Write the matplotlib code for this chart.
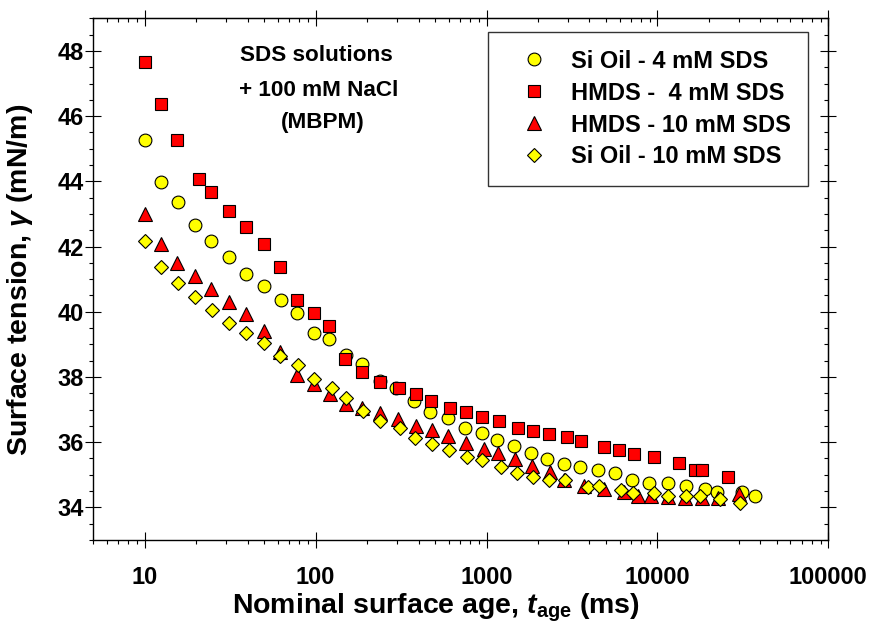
import matplotlib
matplotlib.use("Agg")
import matplotlib.pyplot as plt
from matplotlib.ticker import FixedLocator, LogLocator, MultipleLocator, NullFormatter

plt.rcParams['font.family'] = ['Liberation Sans', 'DejaVu Sans']
plt.rcParams['font.weight'] = 'bold'
plt.rcParams['mathtext.fontset'] = 'custom'
plt.rcParams['mathtext.rm'] = 'Liberation Sans:bold'
plt.rcParams['mathtext.it'] = 'Liberation Sans:italic:bold'
plt.rcParams['mathtext.bf'] = 'Liberation Sans:bold'

# surface age (ms) and surface tension (mN/m)
t_si4 = [10, 12.4, 15.7, 19.6, 24.5, 31.0, 39.4, 49.7, 62.4, 78.2,
         97.7, 120, 149.8, 187.5, 236.6, 296.5, 375.8, 468.8, 594, 750,
         944, 1155, 1444, 1826, 2253, 2828, 3546, 4519, 5681, 7113,
         8980, 11550, 14720, 19010, 22340, 31280, 37420]
g_si4 = [45.28, 43.98, 43.37, 42.67, 42.18, 41.68, 41.17, 40.78, 40.37, 39.97,
         39.36, 39.17, 38.66, 38.39, 37.87, 37.66, 37.26, 36.94, 36.75, 36.45,
         36.28, 36.07, 35.87, 35.67, 35.47, 35.34, 35.25, 35.16, 35.06, 34.85,
         34.75, 34.75, 34.65, 34.56, 34.46, 34.46, 34.36]

t_hm4 = [10, 12.4, 15.5, 20.7, 24.5, 31.0, 39.4, 49.7, 61.8, 78.2,
         97.7, 120, 148.8, 187.5, 236.6, 305.6, 387.8, 475, 608, 754,
         944, 1191, 1538, 1866, 2336, 2958, 3548, 4900, 5998, 7330,
         9594, 13326, 16600, 18250, 25760]
g_hm4 = [47.67, 46.38, 45.27, 44.07, 43.67, 43.08, 42.6, 42.07, 41.37, 40.36,
         39.97, 39.56, 38.54, 38.15, 37.85, 37.66, 37.47, 37.25, 37.05, 36.94,
         36.76, 36.66, 36.45, 36.35, 36.25, 36.15, 36.05, 35.85, 35.75, 35.65,
         35.54, 35.35, 35.15, 35.15, 34.94]

t_hm10 = [10, 12.4, 15.5, 19.6, 24.5, 31.0, 39.4, 49.7, 62.2, 78.2,
          97.7, 120.8, 150.2, 187.5, 239, 302.9, 384.4, 478.6, 593.9, 760.8,
          960.5, 1164.5, 1458, 1840, 2358, 2858, 3707, 4853, 6412, 7672,
          9189, 11596, 14521, 18257, 22523, 30170]
g_hm10 = [42.99, 42.07, 41.49, 41.1, 40.69, 40.29, 39.93, 39.4, 38.77, 38.07,
          37.77, 37.47, 37.17, 37.05, 36.89, 36.7, 36.49, 36.38, 36.18, 35.98,
          35.78, 35.67, 35.48, 35.28, 35.08, 34.85, 34.67, 34.56, 34.46, 34.36,
          34.36, 34.33, 34.29, 34.29, 34.29, 34.41]

t_si10 = [10, 12.4, 15.7, 19.6, 24.8, 31.0, 39.4, 49.7, 62.2, 78.8,
          97.7, 124.9, 149.8, 189, 236.6, 309.9, 379.3, 481.4, 599.6, 771,
          944, 1207.6, 1504, 1866, 2314, 2889, 3912, 4580, 6134, 7238,
          9515, 11488, 14720, 17846, 23267, 30455]
g_si10 = [42.18, 41.36, 40.87, 40.46, 40.06, 39.67, 39.36, 39.05, 38.65, 38.36,
          37.95, 37.67, 37.36, 36.95, 36.66, 36.45, 36.14, 35.94, 35.75, 35.55,
          35.45, 35.25, 35.06, 34.94, 34.84, 34.84, 34.64, 34.65, 34.54, 34.44,
          34.44, 34.36, 34.36, 34.36, 34.26, 34.15]

x_ticks = [10, 100, 1000, 10000, 100000]
x_ticklabels = ['10', '100', '1000', '10000', '100000']
y_ticks = [34, 36, 38, 40, 42, 44, 46, 48]

fig = plt.figure(figsize=(8.71, 6.31), dpi=100)
ax = fig.add_axes([0.1071, 0.1442, 0.8439, 0.8268])

ew = 0.8
ax.plot(t_si4, g_si4, 'o', ms=9.2, mfc='#ffff00', mec='black', mew=ew,
        label='Si Oil - 4 mM SDS')
ax.plot(t_hm4, g_hm4, 's', ms=8.0, mfc='#ff0000', mec='black', mew=ew,
        label='HMDS -  4 mM SDS')
ax.plot(t_hm10, g_hm10, '^', ms=10.0, mfc='#ff0000', mec='black', mew=ew,
        label='HMDS - 10 mM SDS')
ax.plot(t_si10, g_si10, 'D', ms=6.8, mfc='#ffff00', mec='black', mew=ew,
        label='Si Oil - 10 mM SDS')

ax.set_xscale('log')
ax.set_xlim(5, 100000)
ax.set_ylim(33, 49)

ax.xaxis.set_major_locator(FixedLocator(x_ticks))
ax.set_xticklabels(x_ticklabels)
ax.xaxis.set_minor_locator(LogLocator(base=10, subs=range(2, 10), numticks=20))
ax.xaxis.set_minor_formatter(NullFormatter())
ax.yaxis.set_major_locator(FixedLocator(y_ticks))
ax.yaxis.set_minor_locator(MultipleLocator(0.5))

for sp in ax.spines.values():
    sp.set_linewidth(1.0)

ax.tick_params(which='major', direction='inout', length=11.5, width=0.8,
               labelsize=17)
ax.tick_params(which='minor', direction='out', length=3.2, width=0.8)
ax.tick_params(axis='x', which='major', pad=13)
ax.tick_params(axis='y', which='major', pad=1)

# top and right: minor ticks point inward
secx = ax.secondary_xaxis('top')
secx.xaxis.set_major_locator(FixedLocator(x_ticks))
secx.xaxis.set_minor_locator(LogLocator(base=10, subs=range(2, 10), numticks=20))
secx.xaxis.set_major_formatter(NullFormatter())
secx.xaxis.set_minor_formatter(NullFormatter())
secx.tick_params(which='major', direction='inout', length=11.5, width=0.8)
secx.tick_params(which='minor', direction='in', length=3.2, width=0.8)

secy = ax.secondary_yaxis('right')
secy.yaxis.set_major_locator(FixedLocator(y_ticks))
secy.yaxis.set_minor_locator(MultipleLocator(0.5))
secy.yaxis.set_major_formatter(NullFormatter())
secy.tick_params(which='major', direction='inout', length=11.5, width=0.8)
secy.tick_params(which='minor', direction='in', length=3.2, width=0.8)

ax.set_xlabel(r'Nominal surface age, $t_{\mathrm{age}}$ (ms)', fontsize=20.5,
              fontweight='bold')
ax.xaxis.set_label_coords(0.466, -0.1)
ax.set_ylabel(r'Surface tension, $\gamma$ (mN/m)', fontsize=20.5,
              fontweight='bold')
ax.yaxis.set_label_coords(-0.079, 0.498)

fig.text(240 / 871, 1 - 61 / 631, 'SDS solutions', fontsize=16.2,
         fontweight='bold', ha='left', va='baseline')
fig.text(239 / 871, 1 - 96 / 631, '+ 100 mM NaCl', fontsize=16.2,
         fontweight='bold', ha='left', va='baseline')
fig.text(281 / 871, 1 - 128 / 631, '(MBPM)', fontsize=16.2,
         fontweight='bold', ha='left', va='baseline')

leg = ax.legend(loc='upper left', bbox_to_anchor=(0.537, 0.974), borderaxespad=0,
                fontsize=17, frameon=True, fancybox=False, edgecolor='black',
                handletextpad=0.36, labelspacing=0.38, borderpad=0.75,
                handlelength=2.4, markerscale=1.0)
leg.get_frame().set_linewidth(1.0)
for txt in leg.get_texts():
    txt.set_fontweight('bold')

fig.savefig('out.png', dpi=100)
